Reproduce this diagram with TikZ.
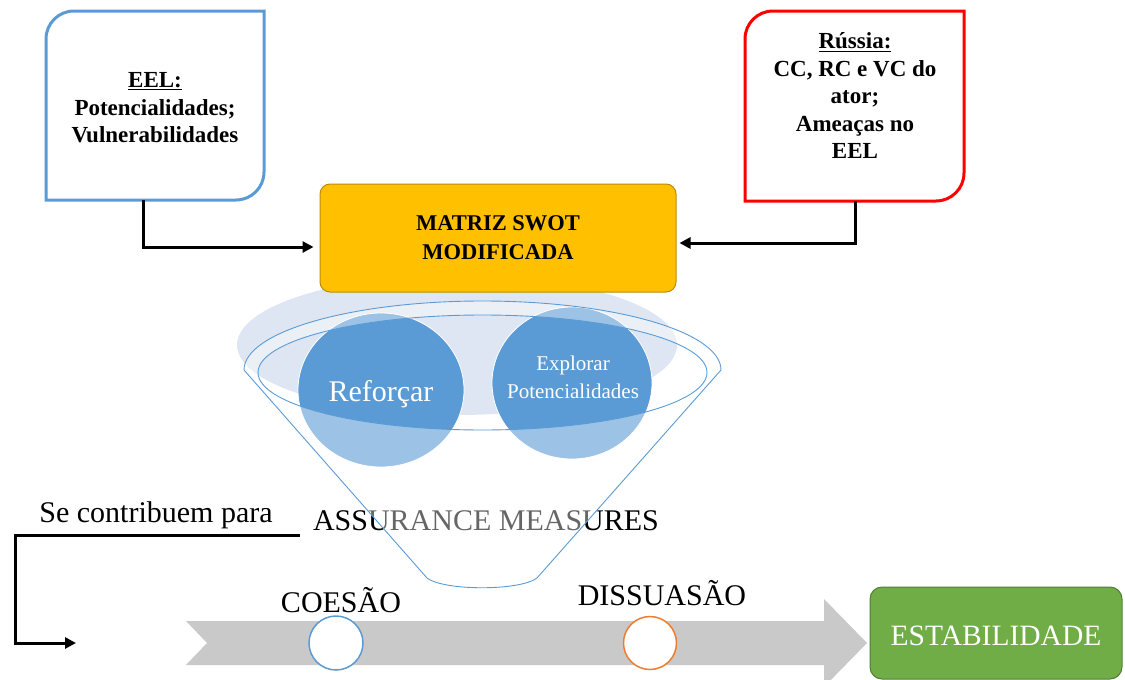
\documentclass[tikz,border=0pt]{standalone}
\usepackage{fontspec}
\setmainfont{Liberation Serif}
\usetikzlibrary{arrows.meta,shapes.geometric,calc}
\definecolor{eelblue}{HTML}{5B9BD5}
\definecolor{rusred}{HTML}{FF0000}
\definecolor{swotfill}{HTML}{FFC000}
\definecolor{swotdraw}{HTML}{BC8C00}
\definecolor{greenfill}{HTML}{70AD47}
\definecolor{greendraw}{HTML}{507E32}
\definecolor{arrowgray}{HTML}{C9C9C9}
\definecolor{bigell}{HTML}{DEE6F3}
\definecolor{orangec}{HTML}{ED7D31}
\tikzset{
  boxline/.style={line width=3pt, line join=miter},
  conn/.style={line width=3pt, -{Triangle[length=11pt,width=11pt]}},
  boxtxt/.style={inner sep=0pt, align=center, font=\bfseries\fontsize{23}{27.5}\selectfont},
  bigtxt/.style={inner sep=0pt, font=\fontsize{30}{36}\selectfont},
  circ/.style={ellipse, inner sep=0pt, fill=eelblue, draw=white, line width=0.8pt},
  funline/.style={draw=eelblue, line width=0.9pt},
  milestone/.style={circle, fill=white, line width=1.5pt, minimum size=54pt, inner sep=0pt}
}
\begin{document}
\begin{tikzpicture}[x=1pt,y=-1pt]
\useasboundingbox (0,0) rectangle (1125,680);

% big light ellipse
\fill[bigell] (457,345) ellipse [x radius=220, y radius=70];

% EEL box
\node[minimum width=218pt, minimum height=189pt, inner sep=0pt] (eel) at (155,105.5) {};
\draw[boxline, draw=eelblue] (46,200) -- (46,39) .. controls (46,23.5) and (58.5,11) .. (74,11)
  -- (264,11) -- (264,172) .. controls (264,187.5) and (251.5,200) .. (236,200) -- cycle;
\node[boxtxt] (eeltxt) at (155,108) {\underline{EEL:}\\Potencialidades;\\Vulnerabilidades};

% Russia box
\node[minimum width=219pt, minimum height=190pt, inner sep=0pt] (rus) at (854.5,106) {};
\draw[boxline, draw=rusred] (745,201) -- (745,39) .. controls (745,23.5) and (757.5,11) .. (773,11)
  -- (964,11) -- (964,173) .. controls (964,188.5) and (951.5,201) .. (936,201) -- cycle;
\node[boxtxt] (rustxt) at (855,96) {\underline{Rússia:}\\CC, RC e VC do\\ator;\\Ameaças no\\EEL};

% SWOT box
\node[rectangle, rounded corners=10pt, fill=swotfill, draw=swotdraw, line width=1pt,
      minimum width=356pt, minimum height=108pt, inner sep=0pt,
      align=center, font=\bfseries\fontsize{22.5}{29}\selectfont] (swot) at (498,238) {MATRIZ SWOT\\MODIFICADA};

% connectors to SWOT
\draw[conn] ([xshift=-12pt]eel.south) |- ([xshift=-6pt, yshift=-9pt]swot.west);
\draw[conn] ([xshift=0.5pt]rus.south) |- ([xshift=3pt, yshift=-5pt]swot.east);

% circles
\node[circ, minimum width=166pt, minimum height=154pt] (ref) at (381,390) {};
\node[circ, minimum width=160pt, minimum height=152pt] (exp) at (572,383) {};

% assurance text (under funnel overlay)
\node[bigtxt, anchor=base] (assur) at (486,530) {ASSURANCE MEASURES};

% funnel overlay
\fill[white, fill opacity=0.4, even odd rule]
  (244,370) .. controls (244,331.9) and (350.8,301) .. (482.5,301)
  .. controls (614.2,301) and (721,331.9) .. (721,370)
  -- (537,578) .. controls (520,591) and (444,591) .. (427,578) -- cycle
  (482.5,372.5) ellipse [x radius=224.5, y radius=57.5];
\draw[funline]
  (244,370) .. controls (244,331.9) and (350.8,301) .. (482.5,301)
  .. controls (614.2,301) and (721,331.9) .. (721,370)
  -- (537,578) .. controls (520,591) and (444,591) .. (427,578) -- cycle;
\draw[funline] (482.5,372.5) ellipse [x radius=224.5, y radius=57.5];

% circle texts
\node[inner sep=0pt, text=white, font=\fontsize{30}{36}\selectfont, anchor=base] (reftxt) at (381,401) {Reforçar};
\node[inner sep=0pt, text=white, align=center, font=\fontsize{21}{28}\selectfont] (exptxt) at (573,377) {Explorar\\Potencialidades};

% Se contribuem para + connector
\node[bigtxt, anchor=base] (secontrib) at (156,522) {Se contribuem para};
\coordinate (cstart) at (300,535);
\coordinate (cend) at (76,643);
\draw[conn] (cstart) -- (15,535) |- (cend);

% gray arrow
\fill[arrowgray] (186,621) -- (824,621) -- (824,599) -- (867,643) -- (824,687) -- (824,665)
  -- (186,665) -- (207,643) -- cycle;

% milestones
\node[milestone, draw=eelblue] (coes) at (336,643) {};
\node[milestone, draw=orangec, minimum size=53pt] (diss) at (650,643) {};
\node[bigtxt, anchor=base] (coestxt) at (341,612) {COESÃO};
\node[bigtxt, anchor=base] (disstxt) at (662,605) {DISSUASÃO};

% stability box
\node[rectangle, rounded corners=12pt, fill=greenfill, draw=greendraw, line width=1pt,
      minimum width=252pt, minimum height=92pt, inner sep=0pt] (estab) at (996,633) {};
\node[inner sep=0pt, text=white, font=\fontsize{29.5}{36}\selectfont, anchor=base] (estabtxt) at (996,645) {ESTABILIDADE};
\end{tikzpicture}
\end{document}
